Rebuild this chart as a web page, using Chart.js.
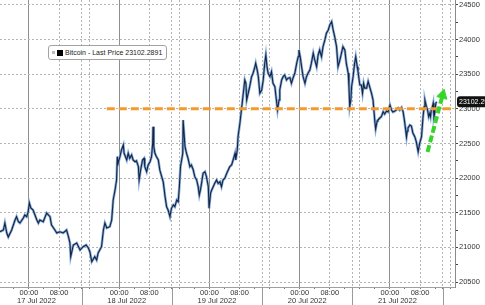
<!DOCTYPE html>
<html>
<head>
<meta charset="utf-8">
<script src="https://cdn.jsdelivr.net/npm/chart.js@4/dist/chart.umd.min.js"></script>
<style>
  html, body { margin: 0; padding: 0; background: #fff; }
  #wrap { position: relative; width: 485px; height: 305px; }
  #legend {
    position: absolute; left: 48px; top: 45px; height: 13px;
    padding: 0 4px 0 3px; border: 1px solid #a3a3a3; border-radius: 3px;
    background: #fff; color: #222; white-space: nowrap;
    font: 7px "Liberation Sans", Arial, sans-serif;
    display: flex; align-items: center;
  }
  #legend .sq1 { width: 3px; height: 3px; background: #bbb; margin-right: 2px; }
  #legend .sq2 { width: 6px; height: 6px; background: #000; margin-right: 2px; }
</style>
</head>
<body>
<div id="wrap">
  <canvas id="chart" width="485" height="305"></canvas>
  <div id="legend"><span class="sq1"></span><span class="sq2"></span><span id="legendText"></span></div>
</div>
<script>
// heures depuis 17 Jul 2022 00:00
const hours = [
  -7.7,-6.8,-6.4,-5.9,-5.5,-4.6,-3.7,-3.3,-2.8,-2.4,
  -1.5,-1.1,-0.6,-0.2,0.1,0.5,1.1,1.6,2.1,2.5,
  2.9,3.8,4.7,5.6,6.0,6.9,7.4,8.2,9.1,10.0,
  10.5,10.9,11.1,11.8,12.7,13.6,14.4,15.2,15.8,16.2,
  16.7,17.5,18.0,18.4,19.3,19.8,20.2,20.7,21.5,22.0,
  22.4,22.9,23.3,23.5,23.7,24.2,24.6,25.1,25.3,26.0,
  26.4,26.8,27.3,27.7,28.2,28.6,29.1,29.3,29.7,30.2,
  30.6,30.8,31.3,31.7,32.2,32.6,32.9,33.0,33.2,33.5,
  33.9,34.4,34.8,35.3,35.7,36.2,36.6,37.0,37.5,37.9,
  38.4,38.8,39.3,39.7,40.0,40.3,40.9,41.0,41.5,41.9,
  42.3,42.8,43.2,43.7,44.1,44.6,45.0,45.3,45.6,45.9,
  46.3,46.8,47.2,47.7,47.9,48.3,48.6,49.0,49.4,49.9,
  50.3,50.8,51.2,51.6,52.1,52.6,53.0,53.4,53.9,54.3,
  54.8,55.0,55.4,55.6,56.1,56.5,56.8,57.1,57.4,57.7,
  57.9,58.3,58.7,59.2,59.6,60.1,60.3,60.7,61.0,61.4,
  61.9,62.3,62.7,63.0,63.3,63.6,64.1,64.5,64.9,65.4,
  65.8,66.1,66.5,66.7,67.2,67.6,68.0,68.5,68.9,69.4,
  69.8,70.2,70.7,71.2,71.6,71.8,72.2,72.5,72.9,73.4,
  73.8,74.2,74.7,75.1,75.6,76.0,76.5,76.9,77.3,77.8,
  78.2,78.7,79.1,79.6,80.0,80.5,80.9,81.3,81.8,82.2,
  82.7,83.1,83.5,84.0,84.4,84.9,85.1,85.3,85.6,85.8,
  86.2,86.6,86.9,87.3,87.5,88.0,88.4,88.7,89.0,89.3,
  89.8,90.2,90.6,91.1,91.5,92.0,92.2,92.6,92.8,93.3,
  93.7,94.2,94.6,95.1,95.5,96.0,96.4,96.8,97.3,97.7,
  98.2,98.6,99.1,99.5,99.9,100.4,100.6,100.8,101.3,101.7,
  102.1,102.6,103.0,103.5,103.9,104.4,104.6,104.8,105.1,105.3,
  105.5,105.7,106.0,106.3,106.6,106.8,107.0,107.3,107.5,107.7,
  107.9,108.2,108.4
];
const price = [
  21226,21251,21352,21208,21150,21251,21395,21443,21371,21352,
  21424,21468,21443,21515,21641,21569,21540,21468,21395,21352,
  21395,21371,21496,21443,21323,21251,21208,21226,21208,21251,
  21154,21063,20866,21034,21063,20962,21010,21034,20991,20938,
  20793,20866,20818,20919,21010,21251,21352,21280,21299,21395,
  21684,21829,21973,22310,22214,22310,22406,22478,22359,22262,
  22359,22286,22334,22262,22237,22250,22165,21973,22117,22262,
  22286,22165,22093,22190,22237,22310,22503,22743,22454,22359,
  22310,22262,22117,22021,21948,21732,21587,21540,21443,21564,
  21612,21587,21684,21660,21876,22165,22359,22839,22454,22359,
  22286,22165,22190,22117,22021,21973,21876,21756,21829,21925,
  22070,22093,22021,21876,21564,21781,21829,21876,21925,21973,
  21925,21948,21876,21973,21998,22070,22117,22165,22190,22262,
  22359,22262,22406,22598,22792,22984,23128,23273,23417,23369,
  23128,23225,23320,23465,23514,23609,23658,23561,23465,23225,
  23273,23417,23658,23778,23609,23514,23465,23537,23369,23320,
  23128,22984,23128,23273,23417,23465,23489,23417,23442,23450,
  23369,23442,23514,23658,23753,23850,23730,23609,23465,23369,
  23465,23514,23561,23658,23803,23706,23609,23778,23850,23753,
  23898,23995,24091,24139,24211,24259,24139,24042,23898,23609,
  23706,23803,23898,23850,23658,23514,23320,23031,23128,23320,
  23465,23658,23753,23609,23537,23345,23345,23225,23369,23300,
  23300,23395,23320,23225,23130,22810,22709,22825,22839,22868,
  22887,22959,22926,22969,22955,23056,22984,22955,22969,22984,
  23013,22984,23020,22959,22815,22594,22681,22724,22767,22753,
  22652,22598,22526,22382,22503,22598,22743,22887,23031,23128,
  23080,23031,22984,22887,22936,22887,22984,23031,23080,22887,
  22936,23080,23102.29
];
const dayLabels = ['17 Jul 2022', '18 Jul 2022', '19 Jul 2022', '20 Jul 2022', '21 Jul 2022'];
const seriesName = 'Bitcoin - Last Price';
const lastPrice = 23102.2891;

// ligne orange (niveau 23000) et fleche verte
const levelHours = [20.7, 113.3];
const levelValues = [23000, 23000];
const arrowHours = [106.0, 110.0];
const arrowValues = [22377, 23200];

const xMin = -7.7, xMax = 113.3;
const yMin = 20428, yMax = 24572;

document.getElementById('legendText').textContent = seriesName + ' ' + lastPrice;

const hourOf = v => ((Math.round(v) % 24) + 24) % 24;
const fontFam = '"Liberation Sans", Arial, sans-serif';

// separateurs + dates centrees entre separateurs + etiquette du dernier prix
const extras = {
  id: 'extras',
  afterDraw(chart) {
    const ctx = chart.ctx, area = chart.chartArea;
    const xs = chart.scales.x, ys = chart.scales.y;
    ctx.save();
    ctx.strokeStyle = '#9a9a9a';
    ctx.lineWidth = 1;
    xs.ticks.forEach(t => {
      if (hourOf(t.value) === 14) {
        const px = Math.round(xs.getPixelForValue(t.value)) + 0.5;
        ctx.beginPath();
        ctx.moveTo(px, area.bottom);
        ctx.lineTo(px, chart.height);
        ctx.stroke();
      }
    });
    ctx.fillStyle = '#333';
    ctx.font = '7.5px ' + fontFam;
    ctx.textAlign = 'center';
    ctx.textBaseline = 'middle';
    dayLabels.forEach((lab, d) => {
      ctx.fillText(lab, xs.getPixelForValue(d * 24 + 2), area.bottom + 14);
    });

    const py = ys.getPixelForValue(lastPrice);
    const bx = area.right + 2;
    ctx.fillStyle = '#111';
    ctx.beginPath();
    ctx.roundRect(bx, py - 5.5, 40, 11, 3);
    ctx.fill();
    ctx.fillStyle = '#fff';
    ctx.font = '7px ' + fontFam;
    ctx.textAlign = 'left';
    ctx.fillText(lastPrice.toFixed(2), bx + 2, py + 0.5);
    ctx.restore();
  }
};

const pricePts = hours.map((h, i) => ({ x: h, y: price[i] }));

const ctx = document.getElementById('chart').getContext('2d');
new Chart(ctx, {
  type: 'line',
  data: {
    datasets: [
      {
        label: 'arrow',
        data: arrowHours.map((h, i) => ({ x: h, y: arrowValues[i] })),
        borderColor: '#36d42c',
        backgroundColor: '#36d42c',
        borderWidth: 4,
        borderDash: [7, 3],
        pointRadius: [0, 6],
        pointStyle: 'triangle',
        pointRotation: [0, 15],
        pointBorderColor: '#36d42c',
        pointBorderWidth: 1,
        order: 0
      },
      {
        label: 'level',
        data: levelHours.map((h, i) => ({ x: h, y: levelValues[i] })),
        borderColor: '#f39a2e',
        borderWidth: 3,
        borderDash: [8, 4],
        pointRadius: 0,
        order: 1
      },
      {
        label: seriesName,
        data: pricePts,
        borderColor: '#16243f',
        borderWidth: 1.1,
        pointRadius: 0,
        order: 2
      },
      {
        label: 'glow',
        data: pricePts,
        borderColor: '#86acdb',
        borderWidth: 2.6,
        pointRadius: 0,
        order: 3
      }
    ]
  },
  options: {
    responsive: false,
    animation: false,
    layout: { padding: 0, autoPadding: false },
    plugins: { legend: { display: false }, tooltip: { enabled: false } },
    scales: {
      x: {
        type: 'linear',
        min: xMin,
        max: xMax,
        afterBuildTicks: s => {
          const t = [];
          for (let d = -1; d <= 4; d++) {
            for (const h of [0, 4, 8, 12, 14, 16, 20]) {
              const v = d * 24 + h;
              if (v >= xMin && v <= xMax) t.push({ value: v });
            }
          }
          s.ticks = t;
        },
        afterFit: s => { s.height = 18; s.paddingLeft = 0; s.paddingRight = 0; },
        grid: {
          color: c => {
            if (!c.tick) return 'rgba(0,0,0,0)';
            const h = hourOf(c.tick.value);
            if (h === 0) return '#8f8f8f';
            if (h === 8 || h === 14 || h === 16) return '#b5b5b5';
            return 'rgba(0,0,0,0)';
          },
          tickColor: '#777',
          tickLength: 2
        },
        border: {
          color: '#a0a0a0',
          dash: c => (c.tick && hourOf(c.tick.value) !== 0) ? [2, 2] : []
        },
        ticks: {
          autoSkip: false,
          maxRotation: 0,
          padding: 0,
          color: '#333',
          font: { family: 'Liberation Sans', size: 7.5, lineHeight: 1.07 },
          callback: v => {
            const h = hourOf(v);
            if (h === 0) return '00:00';
            if (h === 8) return '08:00';
            return '';
          }
        }
      },
      y: {
        position: 'right',
        min: yMin,
        max: yMax,
        afterBuildTicks: s => {
          const t = [];
          for (let v = 20500; v <= 24500; v += 250) t.push({ value: v });
          s.ticks = t;
        },
        afterFit: s => { s.width = 30; s.paddingTop = 0; s.paddingBottom = 0; },
        grid: {
          color: c => (c.tick && c.tick.value % 500 === 0) ? '#b5b5b5' : 'rgba(0,0,0,0)',
          tickColor: '#444',
          tickLength: 3
        },
        border: { color: '#8a8a8a', dash: [2, 2] },
        ticks: {
          padding: 1,
          color: '#333',
          font: { family: 'Liberation Sans', size: 7.5 },
          callback: v => (v % 500 === 0 ? String(v) : '')
        }
      }
    }
  },
  plugins: [extras]
});
</script>
</body>
</html>
